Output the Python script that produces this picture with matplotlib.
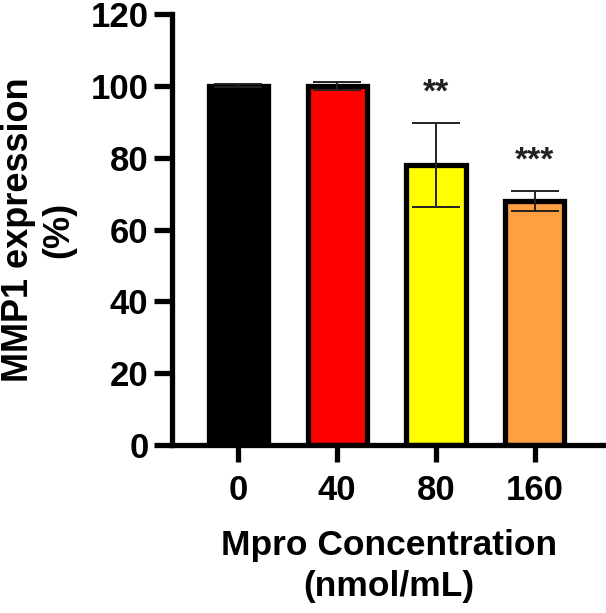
import numpy as np
import matplotlib.pyplot as plt

# hodnoty odčítané z grafu
koncentracie = ['0', '40', '80', '160']
expresia = [100.0, 100.0, 78.0, 68.0]
chyby = [0.4, 1.0, 11.6, 2.7]
farby = ['#000000', '#FF0000', '#FFFF00', '#FFA040']
hviezdy = ['', '', '**', '***']
hviezdy_y = [0, 0, 98, 79]

plt.rcParams['font.family'] = ['Liberation Sans', 'DejaVu Sans']
plt.rcParams['font.weight'] = 'bold'

fig = plt.figure(figsize=(6.06, 6.13), dpi=100)
ax = fig.add_axes([0.284, 0.274, 0.716, 0.703])

x = np.arange(len(koncentracie))
ax.bar(x, expresia, width=0.6, color=farby, edgecolor='black', linewidth=3.8, zorder=2)
ax.errorbar(x, expresia, yerr=chyby, fmt='none', ecolor='#222222', elinewidth=1.4,
            capsize=17, capthick=1.4, zorder=3)

for xi, s, ys in zip(x, hviezdy, hviezdy_y):
    if s:
        ax.text(xi, ys, s, ha='center', va='center', fontsize=24, color='#222222')

ax.set_xlim(-0.67, 3.72)
ax.set_ylim(0, 120)
ax.set_yticks(range(0, 121, 20))
ax.set_xticks(x)
ax.set_xticklabels(koncentracie)

for s in ['top', 'right']:
    ax.spines[s].set_visible(False)
for s in ['left', 'bottom']:
    ax.spines[s].set_linewidth(3.8)

ax.tick_params(axis='y', length=13, width=3.8, labelsize=25, pad=4)
ax.tick_params(axis='x', length=12, width=3.8, labelsize=25, pad=9)

ax.set_xlabel('Mpro Concentration\n(nmol/mL)', fontsize=25.5, fontweight='bold',
              linespacing=1.3, labelpad=16)
ax.set_ylabel('MMP1 expression\n(%)', fontsize=26, fontweight='bold',
              linespacing=1.2, labelpad=10)

fig.savefig('out.png', dpi=100)
